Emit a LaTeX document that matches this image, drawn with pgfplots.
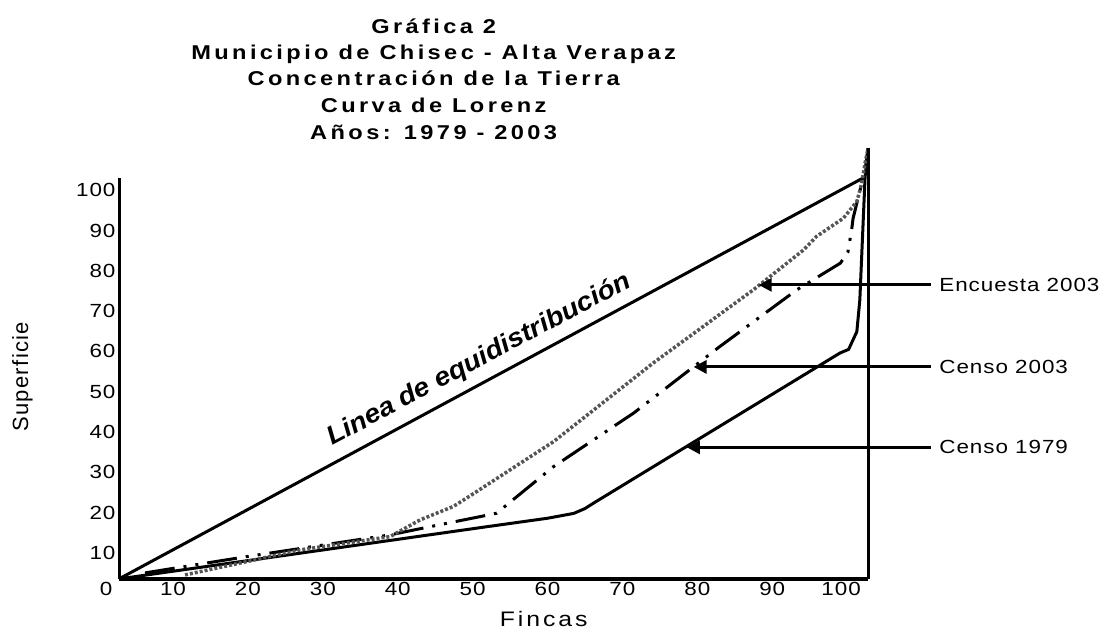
\documentclass[border=0pt]{standalone}
\usepackage{fontspec}
\setmainfont{Liberation Sans}
\usepackage{pgfplots}
\pgfplotsset{compat=1.18}
\usetikzlibrary{arrows.meta}

% the reference looks horizontally stretched, so the fonts are too
\newfontfamily\tickfam[FakeStretch=1.18, LetterSpace=5]{Liberation Sans}
\newfontfamily\titlefam[FakeStretch=1.18, LetterSpace=17]{Liberation Sans}
\newfontfamily\labfam[FakeStretch=1.18, LetterSpace=14]{Liberation Sans}
\newfontfamily\yfam[LetterSpace=6]{Liberation Sans}
\newfontfamily\diagfam[FakeStretch=1.08]{Liberation Sans}
\newcommand\tickfont{\fontsize{19pt}{21pt}\selectfont\tickfam}
\newcommand\titlefont{\fontsize{20pt}{26pt}\selectfont\titlefam\bfseries}
\definecolor{dotgray}{RGB}{85,85,85}

\begin{document}
\begin{tikzpicture}
\begin{axis}[
    x=7.49pt, y=4.03pt,
    xmin=2.79, xmax=102.8, ymin=3.55, ymax=103.05,
    axis x line=bottom, axis y line=left,
    axis line style={-, line width=3pt},
    x axis line style={line width=3.5pt},
    major tick length=0pt, tick style={draw=none},
    xtick={10,20,30,40,50,60,70,80,90,99.2},
    xticklabels={10,20,30,40,50,60,70,80,90,100},
    extra x ticks={2.79}, extra x tick labels={0},
    extra x tick style={xticklabel style={xshift=-13pt}},
    ytick={10,20,...,100},
    tick label style={font=\tickfont},
    /pgf/number format/assume math mode=true,
    xlabel={Fincas},
    xlabel style={at={(axis cs:59.5,-8.3)}, anchor=base,
        font=\fontsize{21pt}{23pt}\selectfont\labfam},
    ylabel={Superficie},
    ylabel style={at={(axis cs:-10.1,53.7)}, anchor=center,
        font=\fontsize{22pt}{24pt}\selectfont\yfam},
    clip=false,
]
% equidistribution line
\addplot[black, line width=3pt] coordinates {(2.79,3.55) (102.3,103.2)};

% Censo 1979
\addplot[black, line width=3pt] coordinates {
 (2.79,3.55) (51.9,16.5) (60.0,18.6) (63.5,19.8) (65.0,21.0) (66.1,22.3)
 (99.05,59.6) (100.2,60.5) (101.3,64.9) (101.7,72.8) (102.4,103.3) (102.8,110.4)};

% Censo 2003
\addplot[black, line width=3pt,
    dash pattern=on 30pt off 9pt on 3pt off 9pt on 3pt off 9pt] coordinates {
 (6.26,5.04) (19.84,9.08) (38.97,14.47) (44.3,16.5) (51.0,19.0) (53.2,19.85)
 (60.8,31.4) (71.5,44.7) (83.0,61.2) (93.3,75.3) (99.1,81.9) (100.1,84.6)
 (100.6,90.1) (100.8,93.05) (102.4,105) (102.8,110.4)};

% Encuesta 2003
\addplot[dotgray, line width=3.5pt, dash pattern=on 3pt off 2pt] coordinates {
 (11.6,4.54) (19.84,7.84) (26.96,10.74) (38.97,14.04) (43.0,18.2) (47.4,21.5)
 (49.2,23.6) (60.8,37.6) (74.1,57.1) (87.5,75.3) (94.2,85.2) (95.9,88.5)
 (99.5,93.05) (101.3,97.2) (101.9,101.3) (102.4,106.7) (102.8,110.4)};

% right edge
\addplot[black, line width=3pt] coordinates {(102.8,3.55) (102.8,110.4)};

% title
\node[anchor=base, font=\titlefont] at (axis cs:44.8,139.0) {Gráfica 2};
\node[anchor=base, font=\titlefont] at (axis cs:44.8,132.5) {Municipio de Chisec - Alta Verapaz};
\node[anchor=base, font=\titlefont] at (axis cs:44.8,125.9) {Concentración de la Tierra};
\node[anchor=base, font=\titlefont] at (axis cs:44.8,119.3) {Curva de Lorenz};
\node[anchor=base, font=\titlefont] at (axis cs:44.8,112.7) {Años: 1979 - 2003};

% diagonal label
\node[rotate=28, font=\fontsize{26pt}{30pt}\selectfont\diagfam\bfseries\itshape]
    at (axis cs:50.85,57.9) {Linea de equidistribución};

% arrows and series labels
\draw[line width=3pt, -{Triangle[length=13pt,width=13pt]}]
    (axis cs:111.2,76.5) -- (axis cs:88.2,76.5);
\draw[line width=3pt, -{Triangle[length=13pt,width=13pt]}]
    (axis cs:111.2,56.15) -- (axis cs:79.5,56.15);
\draw[line width=3pt, -{Triangle[length=13pt,width=13pt]}]
    (axis cs:111.2,36.2) -- (axis cs:78.6,36.2);
\node[anchor=west, inner sep=0pt, font=\tickfont] at (axis cs:112.3,76.5) {Encuesta 2003};
\node[anchor=west, inner sep=0pt, font=\tickfont] at (axis cs:112.3,56.15) {Censo 2003};
\node[anchor=west, inner sep=0pt, font=\tickfont] at (axis cs:112.3,36.2) {Censo 1979};

\coordinate (bbl) at (axis cs:-13.1,-9.6);
\coordinate (bbr) at (axis cs:134.7,147.2);
\end{axis}
\pgfresetboundingbox
\path (bbl) rectangle (bbr);
\end{tikzpicture}
\end{document}
